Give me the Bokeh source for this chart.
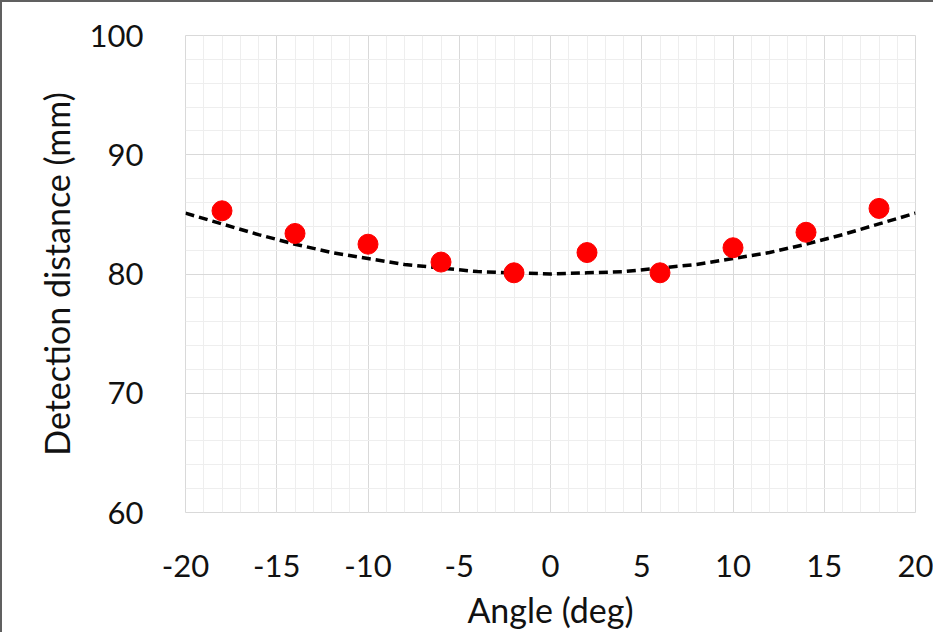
from bokeh.plotting import figure
from bokeh.models import Range1d, SingleIntervalTicker, PrintfTickFormatter
from bokeh.embed import file_html
from bokeh.resources import INLINE

# Measured data
angle = [-18, -14, -10, -6, -2, 2, 6, 10, 14, 18]
distance = [85.3, 83.4, 82.5, 81.0, 80.1, 81.8, 80.1, 82.2, 83.5, 85.5]

# Polynomial trendline
trend_x = [-20, -18, -16, -14, -12, -10, -8, -6, -4, -2, 0, 2, 4, 6, 8, 10, 12, 14, 16, 18, 20]
trend_y = [85.1, 84.2, 83.3, 82.5, 81.8, 81.3, 80.8, 80.5, 80.2, 80.1, 80.0,
           80.1, 80.2, 80.5, 80.8, 81.3, 81.8, 82.5, 83.3, 84.2, 85.1]

x_title = "Angle (deg)"
y_title = "Detection distance (mm)"

FONT = "Lato"

p = figure(output_backend="svg", toolbar_location=None,
           frame_width=730, frame_height=477,
           min_border_left=183, min_border_top=33, min_border_right=18, min_border_bottom=110,
           x_range=Range1d(-20, 20), y_range=Range1d(60, 100))
p.styles = {"border-top": "2px solid #606060", "border-left": "2px solid #606060"}
p.background_fill_color = "white"
p.border_fill_color = "white"
p.outline_line_color = "#d9d9d9"
p.outline_line_width = 1

p.xaxis.ticker = SingleIntervalTicker(interval=5, num_minor_ticks=5)
p.yaxis.ticker = SingleIntervalTicker(interval=10, num_minor_ticks=5)
p.xaxis.formatter = PrintfTickFormatter(format="%d")
p.yaxis.formatter = PrintfTickFormatter(format="%d")

for ax in (p.xaxis, p.yaxis):
    ax.axis_line_color = None
    ax.major_tick_line_color = None
    ax.minor_tick_line_color = None
    ax.major_label_text_font = FONT
    ax.major_label_text_font_size = "31px"
    ax.major_label_text_color = "#111111"
    ax.axis_label_text_font = FONT
    ax.axis_label_text_font_size = "34px"
    ax.axis_label_text_font_style = "normal"
    ax.axis_label_text_color = "#111111"
p.xaxis.major_label_standoff = 36
p.yaxis.major_label_standoff = 36
p.xaxis.axis_label = x_title
p.yaxis.axis_label = y_title
p.xaxis.axis_label_standoff = 9
p.yaxis.axis_label_standoff = 10

for g in (p.xgrid, p.ygrid):
    g.grid_line_color = "#d9d9d9"
    g.grid_line_width = 1
    g.minor_grid_line_color = "#eeeeee"
    g.minor_grid_line_width = 1

p.line(trend_x, trend_y, line_color="black", line_width=3.5, line_dash="9 5")
p.scatter(angle, distance, size=20, fill_color="#ff0000", line_color="#ff0000")

open("out.html", "w").write(file_html(p, INLINE))
